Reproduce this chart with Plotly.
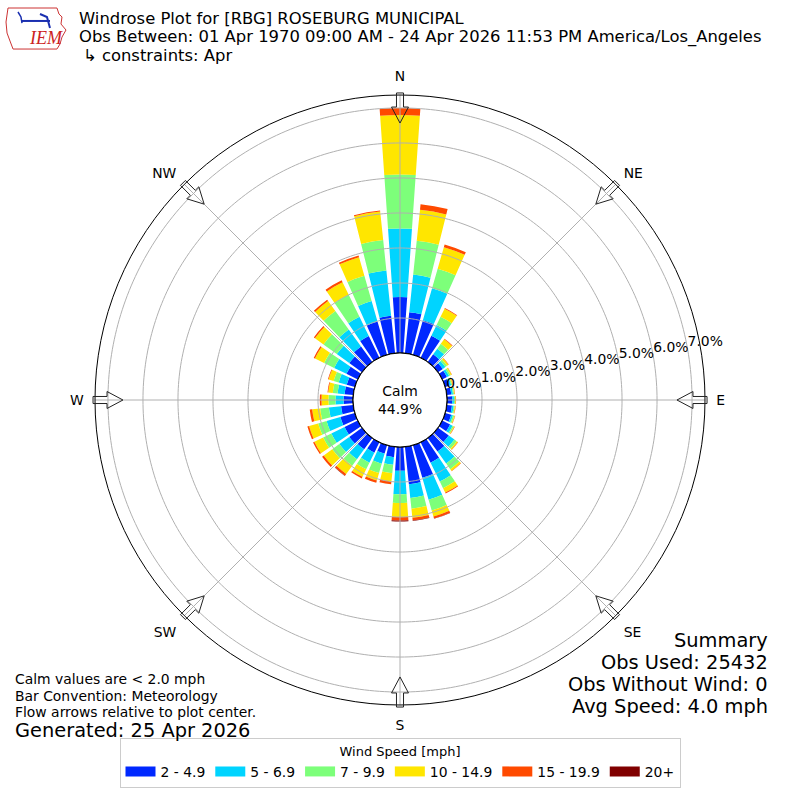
import numpy as np
import plotly.graph_objects as go

# wind directions (deg, meteorological) and speed bins
directions = list(range(0, 360, 10))
speed_bins = ["2 - 4.9", "5 - 6.9", "7 - 9.9", "10 - 14.9", "15 - 19.9", "20+"]
bin_colors = ["#0028ff", "#00d4ff", "#7dff7a", "#ffe600", "#ff4a00", "#800000"]

# frequency (%) per direction for each speed bin
spd_2_5 = [1.60, 1.18, 1.03, 0.70, 0.27, 0.17, 0.15, 0.13, 0.13, 0.15, 0.15, 0.18,
           0.25, 0.38, 0.48, 0.65, 0.97, 1.08, 0.68, 0.30, 0.25, 0.33, 0.40, 0.45,
           0.42, 0.43, 0.35, 0.27, 0.25, 0.24, 0.36, 0.45, 0.55, 0.69, 0.99, 1.08]
spd_5_7 = [1.96, 1.08, 0.95, 0.34, 0.20, 0.09, 0.07, 0.05, 0.05, 0.05, 0.05, 0.05,
           0.08, 0.20, 0.42, 0.60, 0.65, 0.39, 0.67, 0.22, 0.30, 0.32, 0.35, 0.35,
           0.42, 0.41, 0.35, 0.23, 0.20, 0.24, 0.39, 0.44, 0.60, 0.61, 0.61, 1.30]
spd_7_10 = [1.54, 0.97, 0.58, 0.26, 0.17, 0.06, 0.05, 0.03, 0.03, 0.03, 0.03, 0.04,
            0.04, 0.08, 0.20, 0.21, 0.32, 0.31, 0.25, 0.24, 0.28, 0.21, 0.23, 0.25,
            0.26, 0.25, 0.25, 0.20, 0.14, 0.15, 0.32, 0.47, 0.65, 0.70, 0.75, 0.87]
spd_10_15 = [1.70, 0.89, 0.64, 0.26, 0.16, 0.05, 0.03, 0.02, 0.02, 0.02, 0.02, 0.02,
             0.02, 0.04, 0.06, 0.14, 0.18, 0.26, 0.40, 0.24, 0.22, 0.24, 0.29, 0.30,
             0.28, 0.27, 0.23, 0.20, 0.13, 0.15, 0.29, 0.30, 0.35, 0.40, 0.55, 0.82]
spd_15_20 = [0.20, 0.16, 0.08, 0.02, 0.02, 0.01, 0.01, 0.01, 0.01, 0.01, 0.01, 0.01,
             0.01, 0.01, 0.01, 0.03, 0.06, 0.08, 0.10, 0.08, 0.07, 0.05, 0.06, 0.06,
             0.04, 0.05, 0.07, 0.05, 0.02, 0.02, 0.04, 0.04, 0.05, 0.06, 0.05, 0.03]
spd_20_up = [0.00, 0.00, 0.00, 0.00, 0.00, 0.00, 0.00, 0.00, 0.00, 0.00, 0.00, 0.00,
             0.00, 0.00, 0.00, 0.00, 0.01, 0.01, 0.03, 0.00, 0.00, 0.00, 0.01, 0.00,
             0.00, 0.00, 0.00, 0.00, 0.00, 0.00, 0.00, 0.00, 0.00, 0.00, 0.00, 0.00]

ring_vals = [0, 1, 2, 3, 4, 5, 6, 7]
compass_angles = [0, 45, 90, 135, 180, 225, 270, 315]
compass_labels = ["N", "NE", "E", "SE", "S", "SW", "W", "NW"]
calm_pct = 44.9
rmax = 7.37

series = [spd_2_5, spd_5_7, spd_7_10, spd_10_15, spd_15_20, spd_20_up]

fig = go.Figure()

for name, color, vals in zip(speed_bins, bin_colors, series):
    fig.add_trace(go.Barpolar(
        r=vals, theta=directions, width=8, name=name, showlegend=False,
        marker=dict(color=color, line=dict(width=0)),
    ))

# grid drawn on top of the bars, like matplotlib does
circ = np.arange(0, 361, 1)
for v in ring_vals[1:]:
    fig.add_trace(go.Scatterpolar(
        r=[v] * len(circ), theta=circ, mode="lines",
        line=dict(color="#b0b0b0", width=1), showlegend=False, hoverinfo="skip"))
for a in compass_angles:
    fig.add_trace(go.Scatterpolar(
        r=[0, rmax], theta=[a, a], mode="lines",
        line=dict(color="#b0b0b0", width=1), showlegend=False, hoverinfo="skip"))
# calm circle
fig.add_trace(go.Scatterpolar(
    r=[0] * len(circ), theta=circ, mode="lines",
    line=dict(color="black", width=1.2), showlegend=False, hoverinfo="skip"))
# radial labels
fig.add_trace(go.Scatterpolar(
    r=ring_vals, theta=[80] * len(ring_vals), mode="text",
    text=["%.1f%%" % v for v in ring_vals], textposition="top right",
    textfont=dict(size=13.9, color="black"), cliponaxis=False,
    showlegend=False, hoverinfo="skip"))

# legend entries as wide swatches
for name, color in zip(speed_bins, bin_colors):
    fig.add_trace(go.Scatterpolar(
        r=[None], theta=[None], mode="lines", name=name,
        line=dict(color=color, width=10), hoverinfo="skip"))

# flow arrows around the rim (pixel geometry -> paper coords)
cx, cy = 400, 400
shapes = []
for a in compass_angles:
    t = np.radians(a)
    ux, uy = np.sin(t), -np.cos(t)      # outward unit vector in pixels
    px_, py_ = -uy, ux                  # perpendicular
    def pt(r, w):
        x = cx + ux * r + px_ * w
        y = cy + uy * r + py_ * w
        return "%.4f,%.4f" % (x / 800, 1 - y / 800)
    path = "M " + " L ".join([
        pt(307, -3.5), pt(293, -3.5), pt(293, -8.5), pt(277, 0),
        pt(293, 8.5), pt(293, 3.5), pt(307, 3.5)]) + " Z"
    shapes.append(dict(type="path", path=path, xref="paper", yref="paper",
                       line=dict(color="#222222", width=1),
                       fillcolor="rgba(0,0,0,0)"))

# rough IEM logo
logo = [(8, 8), (57, 8), (59, 14), (62, 17), (61, 24), (66, 30), (62, 37),
        (60, 44), (57, 49), (13, 49), (10, 41), (7, 33), (6, 22), (8, 8)]
shapes.append(dict(type="path", xref="paper", yref="paper",
                   path="M " + " L ".join("%.4f,%.4f" % (x / 800, 1 - y / 800) for x, y in logo),
                   line=dict(color="#cc3333", width=1)))
shapes.append(dict(type="path", xref="paper", yref="paper",
                   path="M %.4f,%.4f L %.4f,%.4f" % (22 / 800, 1 - 21 / 800, 50 / 800, 1 - 21 / 800),
                   line=dict(color="#1a2fb0", width=2)))
shapes.append(dict(type="path", xref="paper", yref="paper",
                   path="M %.4f,%.4f L %.4f,%.4f L %.4f,%.4f" % (
                       18 / 800, 1 - 12 / 800, 21 / 800, 1 - 17 / 800, 22 / 800, 1 - 23 / 800),
                   line=dict(color="#1a2fb0", width=1.5)))
shapes.append(dict(type="path", xref="paper", yref="paper",
                   path="M %.4f,%.4f L %.4f,%.4f L %.4f,%.4f" % (
                       40 / 800, 1 - 14 / 800, 47 / 800, 1 - 17 / 800, 50 / 800, 1 - 28 / 800),
                   line=dict(color="#1a2fb0", width=2)))

ann = []
def txt(x, y, s, size, xanchor="left", color="black", family=None):
    f = dict(size=size, color=color)
    if family:
        f["family"] = family
    ann.append(dict(x=x / 800, y=1 - y / 800, xref="paper", yref="paper", text=s,
                    showarrow=False, xanchor=xanchor, yanchor="middle", font=f,
                    borderpad=0))

txt(28, 38, "<i>IEM</i>", 18, "left", "#cc2222", "Liberation Serif")
txt(78, 18.7, "Windrose Plot for [RBG] ROSEBURG MUNICIPAL", 16.4)
txt(78, 37, "Obs Between: 01 Apr 1970 09:00 AM - 24 Apr 2026 11:53 PM America/Los_Angeles", 16.4)
txt(82, 55.3, "↳ constraints: Apr", 16.4)
txt(14, 679, "Calm values are < 2.0 mph", 13.9)
txt(14, 696, "Bar Convention: Meteorology", 13.9)
txt(14, 712, "Flow arrows relative to plot center.", 13.9)
txt(14, 730, "Generated: 25 Apr 2026", 19.4)
txt(769, 640, "Summary", 19.4, "right")
txt(769, 662, "Obs Used: 25432", 19.4, "right")
txt(769, 684, "Obs Without Wind: 0", 19.4, "right")
txt(769, 706, "Avg Speed: 4.0 mph", 19.4, "right")
ann.append(dict(x=0.5, y=0.5, xref="paper", yref="paper", showarrow=False,
                text="Calm<br>%.1f%%" % calm_pct, font=dict(size=13.9, color="black")))

fig.update_layout(
    width=800, height=800,
    margin=dict(l=0, r=0, t=0, b=0),
    paper_bgcolor="white",
    font=dict(family="DejaVu Sans", size=13, color="black"),
    polar=dict(
        domain=dict(x=[95 / 800, 705 / 800], y=[95 / 800, 705 / 800]),
        hole=47 / 305,
        bgcolor="white",
        radialaxis=dict(range=[0, rmax], showticklabels=False, showgrid=False,
                        showline=False, ticks=""),
        angularaxis=dict(rotation=90, direction="clockwise", tickmode="array",
                         tickvals=compass_angles, ticktext=compass_labels,
                         showgrid=False, showline=True, linecolor="black", linewidth=1,
                         ticks="outside", ticklen=8, tickcolor="rgba(0,0,0,0)",
                         tickfont=dict(size=13.9)),
    ),
    legend=dict(orientation="h", x=0.5, xanchor="center", y=12 / 800, yanchor="bottom",
                title=dict(text="Wind Speed [mph]", side="top center", font=dict(size=13)),
                bordercolor="#cccccc", borderwidth=1, font=dict(size=13.9)),
    shapes=shapes,
    annotations=ann,
)

fig.write_html("out.html", config={"displayModeBar": False},
               post_script="document.body.style.margin='0';")
